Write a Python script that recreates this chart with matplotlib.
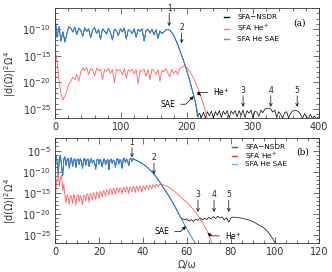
import matplotlib
matplotlib.use("Agg")
import matplotlib.pyplot as plt
import numpy as np
from matplotlib.ticker import FixedLocator, FixedFormatter, MultipleLocator, LogLocator, NullFormatter

BLACK, RED, BLUE = "#000000", "#ff5f5f", "#2f86e0"

# ---- panel (a) data: log10 |d|^2 W^4 -------------------------------------------
xa_sae = np.arange(0, 220, 3)
sae_a = [-7.5, -11.5, -9.5, -12.2, -10.5, -12.4, -10.8, -9.5, -9.8, -10.5,
         -9.6, -11.0, -9.8, -10.2, -11.3, -9.7, -10.4, -9.9, -11.6, -10.1,
         -9.7, -10.8, -10.0, -11.9, -9.9, -10.3, -10.9, -9.8, -10.6, -12.0,
         -10.0, -10.2, -11.2, -9.9, -10.5, -9.8, -11.8, -10.1, -10.3, -10.8,
         -9.9, -11.5, -10.0, -10.4, -9.9, -12.2, -10.2, -10.0, -10.7, -10.0,
         -11.0, -10.1, -11.7, -10.3, -10.8, -10.5, -10.1, -10.0, -10.2, -10.6,
         -11.2, -12.0, -12.9, -13.9, -14.9, -16.0, -17.1, -18.3, -19.6, -21.0,
         -22.4, -23.9, -25.6, -27.5]
xa_he = np.arange(0, 235, 3)
he_a = [-13.5, -16.0, -19.5, -22.0, -23.3, -22.5, -21.5, -20.3, -19.8, -19.0,
        -19.5, -18.5, -19.8, -18.0, -17.3, -17.8, -17.2, -18.5, -17.4, -17.6,
        -18.8, -17.3, -17.8, -17.5, -19.5, -17.6, -17.9, -17.4, -18.3, -17.6,
        -20.0, -17.5, -17.8, -17.6, -18.6, -17.4, -19.2, -17.6, -17.9, -17.5,
        -18.4, -17.6, -20.3, -17.7, -17.9, -17.5, -18.8, -17.6, -19.5, -17.5,
        -17.8, -18.5, -17.6, -19.8, -17.7, -18.0, -17.4, -18.2, -19.0, -17.5,
        -18.3, -17.8, -18.5, -17.4, -17.1, -17.0, -17.1, -17.4, -17.9, -18.5,
        -19.2, -20.0, -20.9, -21.9, -23.0, -24.2, -25.5, -27.0, -28.5]
xa_tail = np.arange(216, 400, 3)
nsdr_tail_a = [-26.4, -25.8, -26.6, -25.6, -26.7, -25.5, -26.3, -25.4, -26.7, -25.5,
               -26.2, -25.3, -26.6, -25.4, -26.0, -25.3, -26.7, -25.4, -25.9, -25.3,
               -26.5, -25.3, -26.2, -25.2, -26.6, -25.3, -25.8, -25.2, -26.7, -25.4,
               -25.6, -26.4, -25.2, -25.7, -25.0, -24.9, -24.8, -25.0, -25.6, -25.2,
               -26.6, -25.5, -26.0, -26.7, -25.7, -25.5, -26.7, -25.8, -25.4, -25.3,
               -25.3, -25.5, -26.0, -26.8, -25.9, -26.5, -26.8, -26.0, -26.8, -26.3,
               -26.8, -26.5]
peaks_a = [173, 192, 285, 327, 367]

# ---- panel (b) data ----------------------------------------------------------
xb_sae = np.concatenate([np.arange(0, 36, 0.5), np.arange(36, 65, 1)])
sae_b = [-8.5, -6.3, -7.8, -10.5, -6.5, -6.2, -9.0, -11.0, -7.0, -6.5,
         -8.5, -7.2, -6.8, -9.2, -7.0, -6.7, -8.8, -7.3, -6.9, -9.0,
         -7.2, -7.0, -8.3, -6.9, -7.6, -9.3, -7.1, -6.8, -8.5, -7.2,
         -7.0, -8.8, -7.4, -6.9, -8.0, -7.3, -7.8, -9.4, -7.2, -7.0,
         -8.2, -7.1, -7.6, -8.9, -7.2, -7.0, -8.4, -7.4, -7.1, -9.6,
         -7.3, -7.0, -8.0, -7.2, -7.6, -9.0, -7.1, -6.9, -8.2, -7.1,
         -7.5, -9.2, -7.0, -6.8, -7.9, -7.0, -7.4, -8.6, -7.0, -6.8,
         -7.6, -6.9,
         -7.1, -7.3, -7.6, -7.9, -8.2, -8.6, -9.0, -9.5, -10.0, -10.6,
         -11.3, -12.0, -12.8, -13.6, -14.4, -15.2, -16.0, -16.9, -17.8, -18.8,
         -19.8, -20.8, -21.8, -22.8, -23.7, -24.6, -25.5, -26.4, -27.3]
xb_he = np.concatenate([np.arange(0, 50, 0.5), np.arange(50, 73, 1)])
he_b = [-18.5, -14.0, -11.0, -10.2, -13.5, -11.5, -10.8, -14.5, -13.0, -15.8,
        -17.5, -15.5, -16.2, -17.8, -15.6, -16.0, -17.6, -15.4, -16.3, -18.0,
        -15.8, -15.5, -17.2, -15.7, -16.4, -17.9, -15.6, -15.8, -17.0, -15.3,
        -15.6, -17.3, -15.2, -15.5, -16.8, -15.0, -15.4, -16.6, -14.8, -15.2,
        -16.4, -14.7, -15.0, -16.0, -14.5, -14.9, -15.8, -14.3, -14.6, -15.6,
        -14.1, -14.4, -15.5, -14.0, -14.3, -15.4, -13.9, -14.2, -15.0, -13.8,
        -14.1, -15.3, -13.7, -14.0, -14.9, -13.6, -14.0, -15.2, -13.6, -13.9,
        -14.8, -13.5, -13.8, -15.0, -13.5, -13.9, -14.6, -13.4, -13.8, -14.9,
        -13.4, -13.7, -14.4, -13.3, -13.6, -14.3, -13.2, -13.5, -14.0, -13.1,
        -13.4, -13.8, -13.0, -13.2, -13.6, -13.0, -13.1, -13.4, -13.1, -13.2,
        -13.3, -13.5, -13.8, -14.2, -14.6, -15.0, -15.5, -16.0, -16.5, -17.0,
        -17.3, -17.9, -18.5, -19.1, -19.8, -20.5, -21.3, -22.1, -23.0, -24.0,
        -25.2, -26.5, -28.0]
xb_tail = np.arange(58, 102, 1)
nsdr_tail_b = [-21.3, -21.5, -21.2, -21.8, -21.4, -21.9, -21.3, -21.6, -21.0, -21.5,
               -21.1, -21.4, -20.9, -21.3, -20.7, -21.2, -20.6, -21.0, -20.8, -21.5,
               -21.0, -22.0, -21.0, -20.8, -20.9, -21.0, -21.0, -21.1, -21.2, -21.4,
               -21.5, -21.7, -21.9, -22.2, -22.5, -22.8, -23.1, -23.4, -23.9, -24.5,
               -25.2, -26.0, -26.9, -27.8]
peaks_b = [35, 45, 65, 72.3, 79]

# NSDR coincides with the SAE curve until the SAE cutoff
xa_nsdr = np.concatenate([xa_sae[xa_sae < 216], xa_tail])
nsdr_a = np.concatenate([np.array(sae_a)[xa_sae < 216], nsdr_tail_a])
xb_nsdr = np.concatenate([xb_sae[xb_sae < 58], xb_tail])
nsdr_b = np.concatenate([np.array(sae_b)[xb_sae < 58], nsdr_tail_b])

plt.rcParams["font.family"] = "DejaVu Sans"
fig = plt.figure(figsize=(3.32, 2.72), dpi=100)
ax_a = fig.add_axes([0.1657, 0.566, 0.795, 0.4044])
ax_b = fig.add_axes([0.1657, 0.1066, 0.795, 0.386])

LW = 0.6
INK = "#333333"


def style(ax, xmax, xmaj, xmin, ylo, yhi, yticks):
    ax.set_yscale("log")
    ax.set_xlim(0, xmax)
    ax.set_ylim(10.0 ** ylo, 10.0 ** yhi)
    ax.xaxis.set_major_locator(MultipleLocator(xmaj))
    ax.xaxis.set_minor_locator(MultipleLocator(xmin))
    ax.yaxis.set_major_locator(FixedLocator([10.0 ** k for k in yticks]))
    ax.yaxis.set_major_formatter(FixedFormatter([f"10$^{{{k}}}$" for k in yticks]))
    ax.yaxis.set_minor_locator(LogLocator(base=10, subs=(1.0,), numticks=60))
    ax.yaxis.set_minor_formatter(NullFormatter())
    ax.tick_params(which="both", direction="in", top=True, right=True,
                   width=0.5, labelsize=7, colors=INK, pad=3)
    ax.tick_params(which="major", length=4)
    ax.tick_params(which="minor", length=2)
    for s in ax.spines.values():
        s.set_linewidth(0.6)
        s.set_color(INK)
    ax.set_ylabel("|d(Ω)|$^2$Ω$^4$", fontsize=7, color=INK)
    ax.yaxis.set_label_coords(-0.142, 0.4)


def num_arrow(ax, x, ylab, ytail, ytip, s):
    ax.annotate("", xy=(x, 10.0 ** ytip), xytext=(x, 10.0 ** ytail),
                arrowprops=dict(arrowstyle="->", lw=0.5, color=BLACK,
                                shrinkA=0, shrinkB=0, mutation_scale=5))
    ax.text(x, 10.0 ** ylab, s, ha="center", va="bottom", fontsize=5.5, color="#222222")


def tag_arrow(ax, s, xy, xytext, angleB):
    ax.annotate(s, xy=xy, xytext=xytext, fontsize=5.5, ha="center", va="center",
                arrowprops=dict(arrowstyle="-|>", lw=0.5, color=BLACK, mutation_scale=5,
                                shrinkA=2, shrinkB=0,
                                connectionstyle=f"angle,angleA=0,angleB={angleB},rad=0"))


def legend(ax, anchor, spacing, colors):
    leg = ax.legend(loc="upper left", bbox_to_anchor=anchor, frameon=False, fontsize=5.2,
                    handlelength=0.8, handletextpad=1.1, labelspacing=spacing, borderpad=0.2)
    for line, c in zip(leg.get_lines(), colors):
        line.set_linewidth(1.0)
        line.set_color(c)
        line.set_alpha(1)


# ---- panel (a) ----------------------------------------------------------------
ax = ax_a
ax.plot(xa_nsdr, 10.0 ** nsdr_a, color=BLACK, lw=0.5, label="SFA\u2212NSDR")
ax.plot(xa_he, 10.0 ** np.array(he_a), color=RED, lw=LW, label="SFA He$^{+}$")
ax.plot(xa_sae, 10.0 ** np.array(sae_a), color=BLUE, lw=0.7, label="SFA He SAE")
style(ax, 400, 100, 20, -26.7, -6.0, [-10, -15, -20, -25])
legend(ax, (0.62, 0.99), 0.4, [BLACK, "#ff8080", "#4a9be8"])
ax.text(0.928, 0.864, "(a)", transform=ax.transAxes, ha="center", va="center",
        fontsize=6.5, family="DejaVu Serif")
num_arrow(ax, peaks_a[0], -6.9, -7.0, -9.4, "1")
num_arrow(ax, peaks_a[1], -10.6, -10.7, -12.6, "2")
for x, s in zip(peaks_a[2:], ["3", "4", "5"]):
    num_arrow(ax, x, -22.4, -22.5, -24.6, s)
tag_arrow(ax, "SAE", (210, 10.0 ** -22.6), (171, 10.0 ** -24.1), 45)
tag_arrow(ax, "He$^{+}$", (221, 10.0 ** -22.5), (252, 10.0 ** -21.9), -45)

# ---- panel (b) ----------------------------------------------------------------
ax = ax_b
ax.plot(xb_nsdr, 10.0 ** nsdr_b, color=BLACK, lw=0.5, label="SFA\u2212NSDR")
ax.plot(xb_he, 10.0 ** np.array(he_b), color=RED, lw=LW, label="SFA He$^{+}$")
ax.plot(xb_sae, 10.0 ** np.array(sae_b), color=BLUE, lw=0.7, label="SFA He SAE")
style(ax, 120, 20, 5, -27.0, -2.0, [-5, -10, -15, -20, -25])
legend(ax, (0.65, 0.99), 0.05, ["#555555", "#e83030", "#66b8ff"])
ax.text(0.94, 0.867, "(b)", transform=ax.transAxes, ha="center", va="center",
        fontsize=6.5, family="DejaVu Serif")
num_arrow(ax, peaks_b[0], -4.1, -4.3, -6.6, "1")
num_arrow(ax, peaks_b[1], -7.8, -8.0, -10.6, "2")
for x, s in zip(peaks_b[2:], ["3", "4", "5"]):
    num_arrow(ax, x, -16.6, -16.8, -19.6, s)
tag_arrow(ax, "SAE", (59.5, 10.0 ** -23.0), (48.5, 10.0 ** -24.3), 45)
tag_arrow(ax, "He$^{+}$", (69.5, 10.0 ** -24.6), (81, 10.0 ** -25.3), -45)
ax.set_xlabel("Ω/ω", fontsize=7, color=INK, labelpad=2)

fig.savefig("out.png", dpi=100)
